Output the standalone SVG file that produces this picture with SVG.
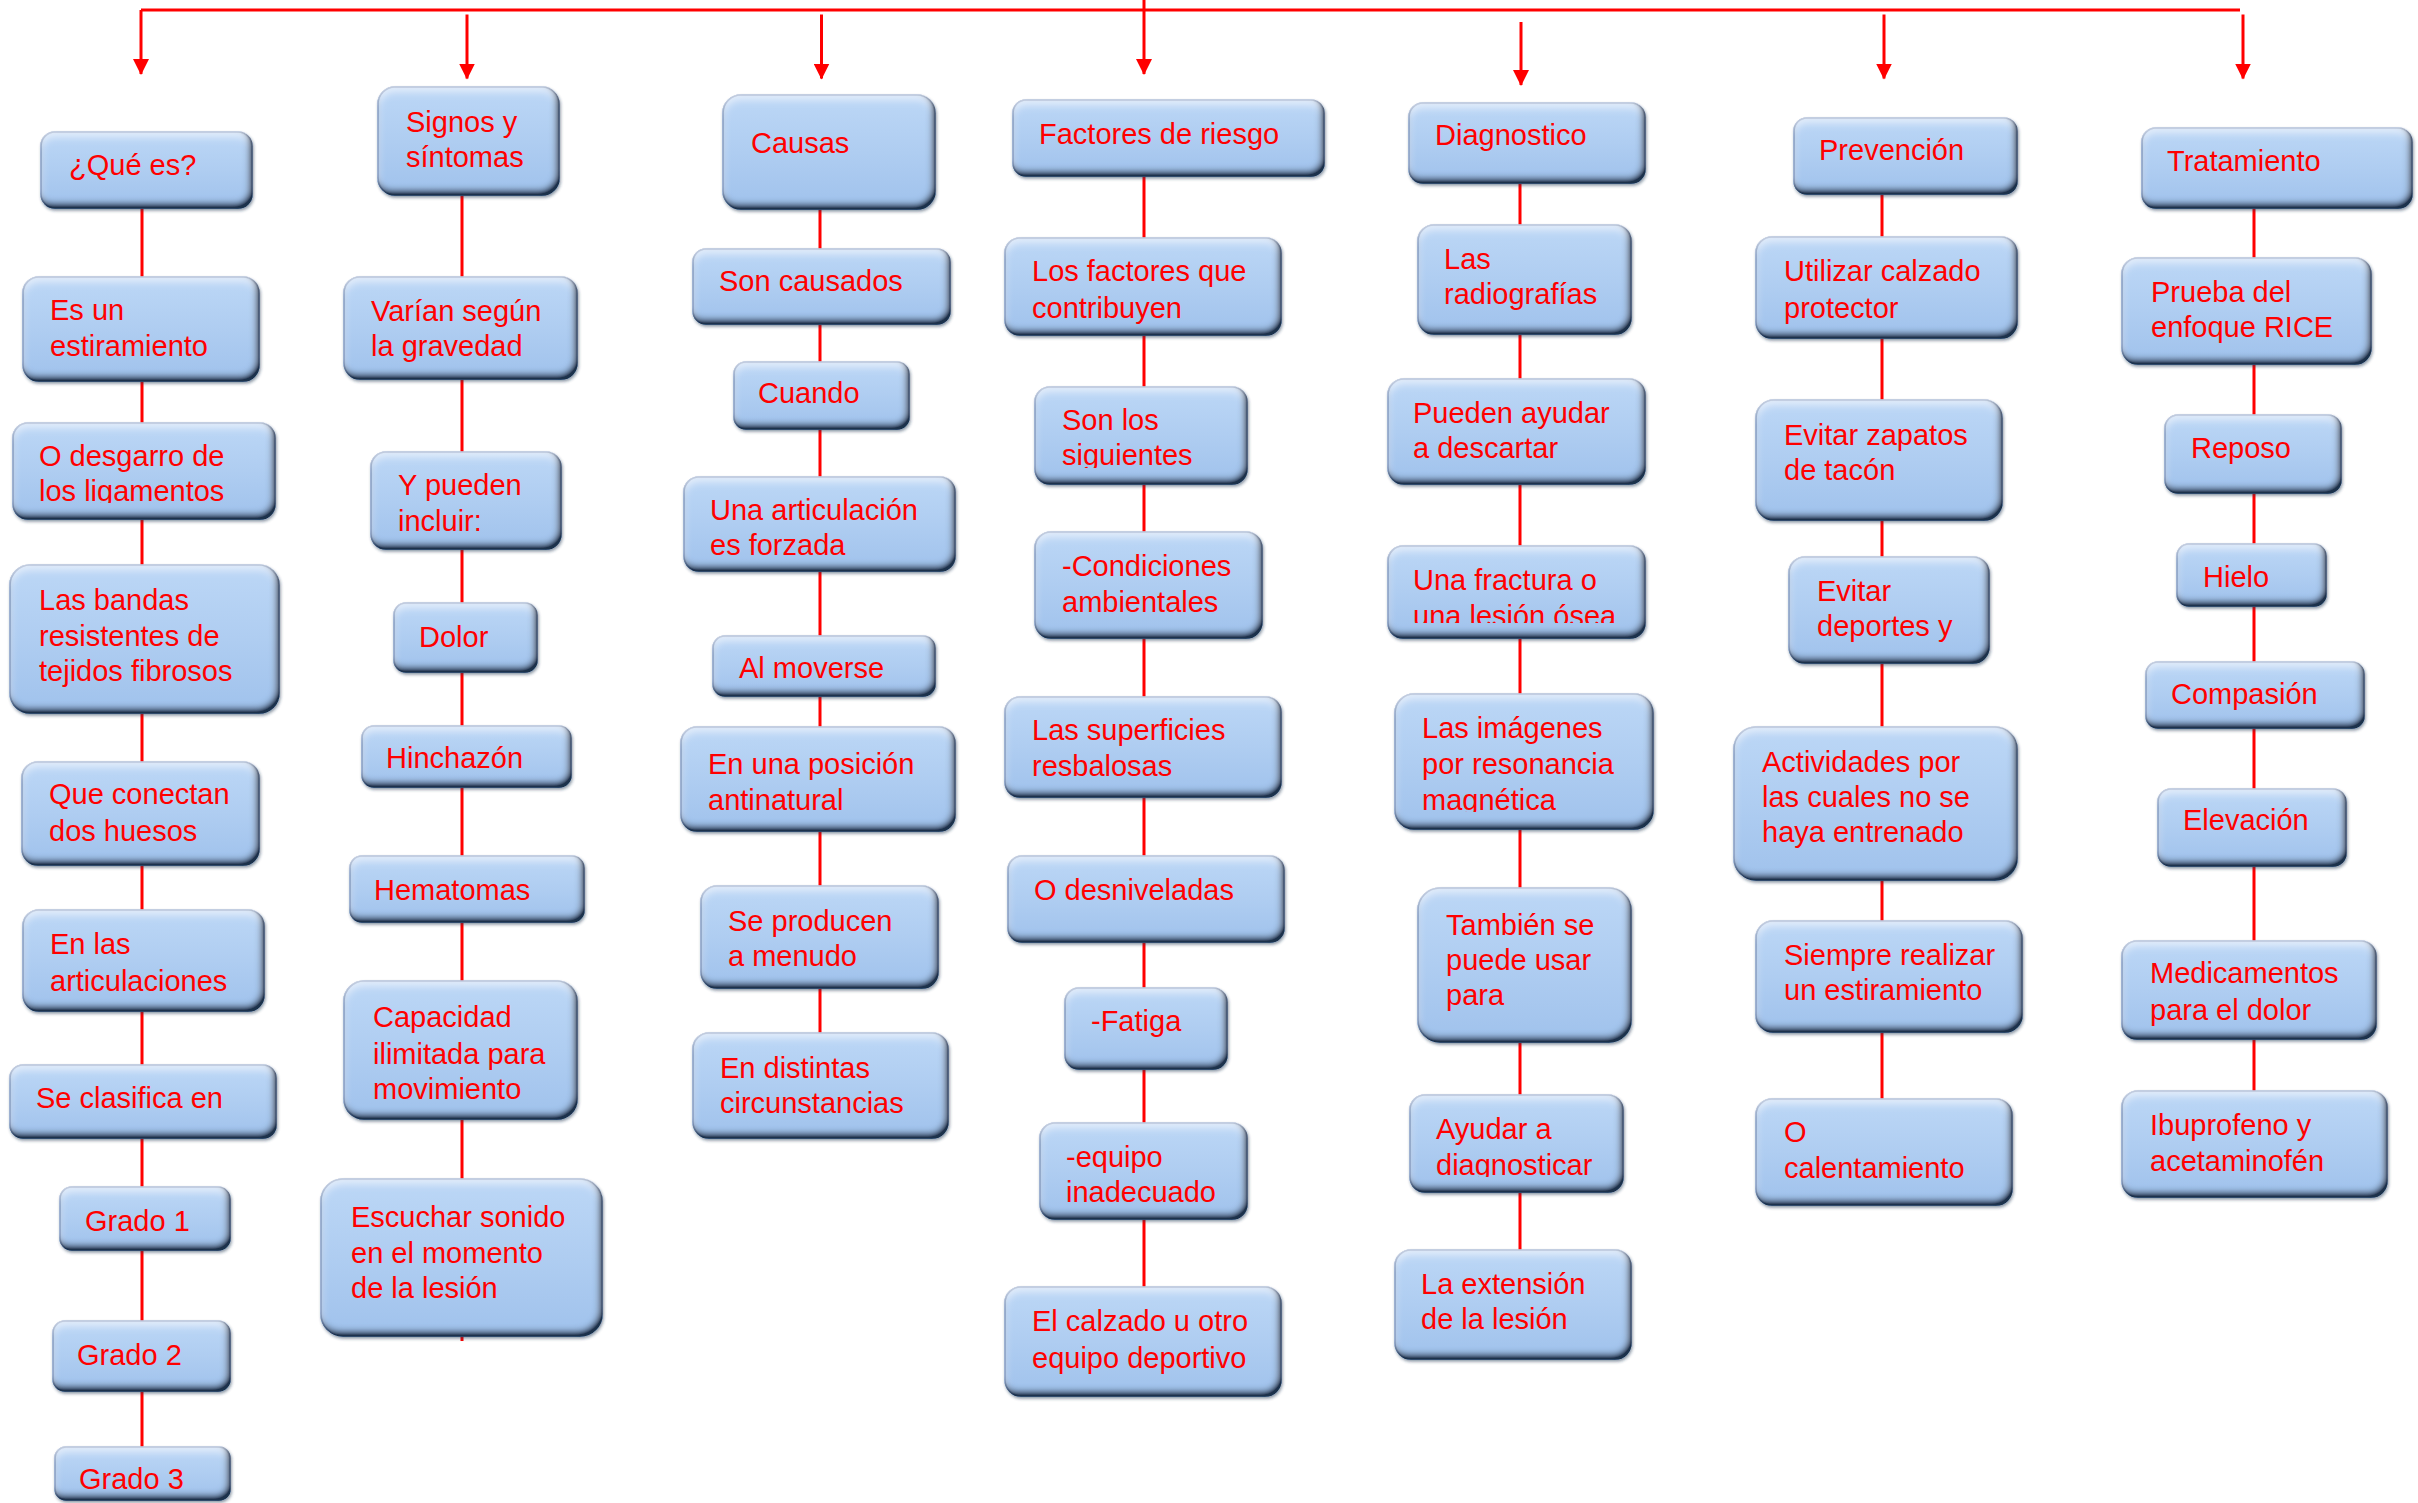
<svg xmlns="http://www.w3.org/2000/svg" width="2418" height="1503" viewBox="0 0 2418 1503">
<defs>
<style>
.n rect{fill:url(#gb);stroke:#5a86bd;stroke-width:1.6;filter:url(#bev);}
.n text{font-family:"Liberation Sans",Arial,sans-serif;font-size:29px;fill:#ff0000;}
.c{stroke:#ff0000;stroke-width:3;fill:none;}
.a{stroke:#ff0000;stroke-width:3;fill:none;marker-end:url(#ah);}
</style>
<linearGradient id="gb" x1="0" y1="0" x2="0" y2="1">
<stop offset="0" stop-color="#bcd7f6"/>
<stop offset="0.5" stop-color="#afcdf1"/>
<stop offset="1" stop-color="#a0c2ec"/>
</linearGradient>
<filter id="bev" x="-5%" y="-10%" width="112%" height="125%">
<feGaussianBlur in="SourceAlpha" stdDeviation="1.5" result="sb"/>
<feOffset in="sb" dx="1" dy="2" result="so"/>
<feFlood flood-color="#1f3550" flood-opacity="0.5"/>
<feComposite in2="so" operator="in" result="shadow"/>
<feGaussianBlur in="SourceAlpha" stdDeviation="3.5" result="ib"/>
<feOffset in="ib" dx="-3" dy="-5" result="ibo"/>
<feComposite in="SourceAlpha" in2="ibo" operator="arithmetic" k2="1.2" k3="-1.2" result="inner"/>
<feFlood flood-color="#1c304c" flood-opacity="1"/>
<feComposite in2="inner" operator="in" result="shade"/>
<feGaussianBlur in="SourceAlpha" stdDeviation="4" result="ib2"/>
<feOffset in="ib2" dx="0" dy="5" result="ibt"/>
<feComposite in="SourceAlpha" in2="ibt" operator="arithmetic" k2="1" k3="-1" result="innert"/>
<feFlood flood-color="#ffffff" flood-opacity="0.6"/>
<feComposite in2="innert" operator="in" result="hl"/>
<feMerge><feMergeNode in="shadow"/><feMergeNode in="SourceGraphic"/><feMergeNode in="hl"/><feMergeNode in="shade"/></feMerge>
</filter>
<marker id="ah" markerUnits="userSpaceOnUse" markerWidth="16" markerHeight="16" refX="15" refY="8" orient="auto">
<path d="M0,0 L16,8 L0,16 z" fill="#ff0000"/>
</marker>
<clipPath id="k1"><rect x="0" y="470" width="400" height="33"/></clipPath>
<clipPath id="k2"><rect x="1000" y="436" width="300" height="32"/></clipPath>
<clipPath id="k3"><rect x="1380" y="598" width="300" height="25"/></clipPath>
<clipPath id="k4"><rect x="1380" y="780" width="300" height="32"/></clipPath>
<clipPath id="k5"><rect x="1400" y="1145" width="300" height="32"/></clipPath>
</defs>
<rect width="2418" height="1503" fill="#ffffff"/>
<g id="connectors">
<path class="c" d="M141,10 H2240"/>
<path class="c" d="M1144,0 V10"/>
<path class="a" d="M141,10 V74"/>
<path class="a" d="M467,14.5 V78.5"/>
<path class="a" d="M821.5,14.5 V78.5"/>
<path class="a" d="M1144,10 V74"/>
<path class="a" d="M1521,22 V85"/>
<path class="a" d="M1884,14.5 V78.5"/>
<path class="a" d="M2243,14.5 V78.5"/>
<path class="c" d="M142,208 V1450"/>
<path class="c" d="M462,195 V1341"/>
<path class="c" d="M820,209 V1035"/>
<path class="c" d="M1144,176 V1289"/>
<path class="c" d="M1520,183 V1252"/>
<path class="c" d="M1882,194 V1101"/>
<path class="c" d="M2254,207 V1093"/>
</g>
<g id="nodes">
<g id="n-que" class="n"><rect x="41" y="132" width="211" height="76" rx="14"/><text x="69" y="174.5">¿Qué es?</text></g>
<g id="n-esun" class="n"><rect x="23" y="277" width="236" height="104" rx="16"/><text><tspan x="50" y="320">Es un</tspan><tspan x="50" y="356">estiramiento</tspan></text></g>
<g id="n-desgarro" class="n"><rect x="13" y="423" width="262" height="96" rx="15"/><text x="39" y="466">O desgarro de</text><text x="39" y="501" clip-path="url(#k1)">los ligamentos</text></g>
<g id="n-bandas" class="n"><rect x="10" y="565" width="269" height="148" rx="20"/><text><tspan x="39" y="610">Las bandas</tspan><tspan x="39" y="646">resistentes de</tspan><tspan x="39" y="681">tejidos fibrosos</tspan></text></g>
<g id="n-conectan" class="n"><rect x="22" y="762" width="237" height="103" rx="16"/><text><tspan x="49" y="804">Que conectan</tspan><tspan x="49" y="841">dos huesos</tspan></text></g>
<g id="n-enlas" class="n"><rect x="23" y="910" width="241" height="101" rx="16"/><text><tspan x="50" y="954">En las</tspan><tspan x="50" y="991">articulaciones</tspan></text></g>
<g id="n-clasifica" class="n"><rect x="10" y="1065" width="266" height="73" rx="13"/><text x="36" y="1108">Se clasifica en</text></g>
<g id="n-grado1" class="n"><rect x="60" y="1187" width="170" height="63" rx="12"/><text x="85" y="1231">Grado 1</text></g>
<g id="n-grado2" class="n"><rect x="53" y="1321" width="177" height="70" rx="12"/><text x="77" y="1365">Grado 2</text></g>
<g id="n-grado3" class="n"><rect x="55" y="1447" width="175" height="53" rx="11"/><text x="79" y="1489">Grado 3</text></g>

<g id="n-signos" class="n"><rect x="378" y="87" width="181" height="108" rx="17"/><text><tspan x="406" y="132">Signos y</tspan><tspan x="406" y="167">síntomas</tspan></text></g>
<g id="n-varian" class="n"><rect x="344" y="277" width="233" height="102" rx="16"/><text><tspan x="371" y="321">Varían según</tspan><tspan x="371" y="356">la gravedad</tspan></text></g>
<g id="n-ypueden" class="n"><rect x="371" y="452" width="190" height="97" rx="15"/><text><tspan x="398" y="495">Y pueden</tspan><tspan x="398" y="531">incluir:</tspan></text></g>
<g id="n-dolor" class="n"><rect x="394" y="603" width="143" height="69" rx="12"/><text x="419" y="647">Dolor</text></g>
<g id="n-hinchazon" class="n"><rect x="362" y="726" width="209" height="61" rx="12"/><text x="386" y="768">Hinchazón</text></g>
<g id="n-hematomas" class="n"><rect x="350" y="856" width="234" height="66" rx="12"/><text x="374" y="900">Hematomas</text></g>
<g id="n-capacidad" class="n"><rect x="344" y="981" width="233" height="138" rx="20"/><text><tspan x="373" y="1027">Capacidad</tspan><tspan x="373" y="1064">ilimitada para</tspan><tspan x="373" y="1099">movimiento</tspan></text></g>
<g id="n-escuchar" class="n"><rect x="321" y="1179" width="281" height="157" rx="22"/><text><tspan x="351" y="1227">Escuchar sonido</tspan><tspan x="351" y="1263">en el momento</tspan><tspan x="351" y="1298">de la lesión</tspan></text></g>

<g id="n-causas" class="n"><rect x="723" y="95" width="212" height="114" rx="18"/><text x="751" y="153">Causas</text></g>
<g id="n-soncausados" class="n"><rect x="693" y="249" width="257" height="75" rx="13"/><text x="719" y="291">Son causados</text></g>
<g id="n-cuando" class="n"><rect x="734" y="362" width="175" height="67" rx="12"/><text x="758" y="403">Cuando</text></g>
<g id="n-articulacion" class="n"><rect x="684" y="477" width="271" height="94" rx="15"/><text><tspan x="710" y="520">Una articulación</tspan><tspan x="710" y="555">es forzada</tspan></text></g>
<g id="n-almoverse" class="n"><rect x="713" y="636" width="222" height="60" rx="12"/><text x="739" y="678">Al moverse</text></g>
<g id="n-posicion" class="n"><rect x="681" y="727" width="274" height="104" rx="16"/><text><tspan x="708" y="774">En una posición</tspan><tspan x="708" y="810">antinatural</tspan></text></g>
<g id="n-seproducen" class="n"><rect x="701" y="886" width="237" height="102" rx="16"/><text><tspan x="728" y="931">Se producen</tspan><tspan x="728" y="966">a menudo</tspan></text></g>
<g id="n-distintas" class="n"><rect x="693" y="1033" width="255" height="105" rx="16"/><text><tspan x="720" y="1078">En distintas</tspan><tspan x="720" y="1113">circunstancias</tspan></text></g>

<g id="n-factores" class="n"><rect x="1013" y="100" width="311" height="76" rx="13"/><text x="1039" y="143.5">Factores de riesgo</text></g>
<g id="n-contribuyen" class="n"><rect x="1005" y="238" width="276" height="97" rx="15"/><text><tspan x="1032" y="281">Los factores que</tspan><tspan x="1032" y="317.5">contribuyen</tspan></text></g>
<g id="n-sonlos" class="n"><rect x="1035" y="387" width="212" height="97" rx="15"/><text x="1062" y="430">Son los</text><text x="1062" y="465" clip-path="url(#k2)">siguientes</text></g>
<g id="n-condiciones" class="n"><rect x="1035" y="532" width="227" height="106" rx="16"/><text><tspan x="1062" y="576">-Condiciones</tspan><tspan x="1062" y="612">ambientales</tspan></text></g>
<g id="n-superficies" class="n"><rect x="1005" y="697" width="276" height="100" rx="15"/><text><tspan x="1032" y="740">Las superficies</tspan><tspan x="1032" y="776">resbalosas</tspan></text></g>
<g id="n-desniveladas" class="n"><rect x="1008" y="856" width="276" height="86" rx="14"/><text x="1034" y="900">O desniveladas</text></g>
<g id="n-fatiga" class="n"><rect x="1065" y="988" width="162" height="81" rx="14"/><text x="1091" y="1031">-Fatiga</text></g>
<g id="n-equipo" class="n"><rect x="1040" y="1123" width="207" height="96" rx="15"/><text><tspan x="1066" y="1167">-equipo</tspan><tspan x="1066" y="1202">inadecuado</tspan></text></g>
<g id="n-calzado" class="n"><rect x="1005" y="1287" width="276" height="109" rx="16"/><text><tspan x="1032" y="1331">El calzado u otro</tspan><tspan x="1032" y="1368">equipo deportivo</tspan></text></g>

<g id="n-diagnostico" class="n"><rect x="1409" y="103" width="236" height="80" rx="14"/><text x="1435" y="145">Diagnostico</text></g>
<g id="n-radiografias" class="n"><rect x="1418" y="225" width="213" height="109" rx="16"/><text><tspan x="1444" y="269">Las</tspan><tspan x="1444" y="304">radiografías</tspan></text></g>
<g id="n-descartar" class="n"><rect x="1388" y="379" width="257" height="105" rx="16"/><text><tspan x="1413" y="423">Pueden ayudar</tspan><tspan x="1413" y="458">a descartar</tspan></text></g>
<g id="n-fractura" class="n"><rect x="1388" y="546" width="257" height="92" rx="15"/><text x="1413" y="590">Una fractura o</text><text x="1413" y="626" clip-path="url(#k3)">una lesión ósea</text></g>
<g id="n-imagenes" class="n"><rect x="1395" y="694" width="258" height="135" rx="19"/><text><tspan x="1422" y="738">Las imágenes</tspan><tspan x="1422" y="774">por resonancia</tspan></text><text x="1422" y="810" clip-path="url(#k4)">magnética</text></g>
<g id="n-tambien" class="n"><rect x="1418" y="888" width="213" height="154" rx="22"/><text><tspan x="1446" y="935">También se</tspan><tspan x="1446" y="970">puede usar</tspan><tspan x="1446" y="1005">para</tspan></text></g>
<g id="n-ayudar" class="n"><rect x="1410" y="1095" width="213" height="97" rx="15"/><text x="1436" y="1139">Ayudar a</text><text x="1436" y="1175" clip-path="url(#k5)">diagnosticar</text></g>
<g id="n-extension" class="n"><rect x="1395" y="1250" width="236" height="109" rx="16"/><text><tspan x="1421" y="1294">La extensión</tspan><tspan x="1421" y="1329">de la lesión</tspan></text></g>

<g id="n-prevencion" class="n"><rect x="1794" y="118" width="223" height="76" rx="13"/><text x="1819" y="160">Prevención</text></g>
<g id="n-utilizar" class="n"><rect x="1756" y="237" width="261" height="101" rx="16"/><text><tspan x="1784" y="281">Utilizar calzado</tspan><tspan x="1784" y="317.5">protector</tspan></text></g>
<g id="n-zapatos" class="n"><rect x="1756" y="400" width="246" height="120" rx="18"/><text><tspan x="1784" y="445">Evitar zapatos</tspan><tspan x="1784" y="480">de tacón</tspan></text></g>
<g id="n-deportes" class="n"><rect x="1789" y="557" width="200" height="106" rx="16"/><text><tspan x="1817" y="601">Evitar</tspan><tspan x="1817" y="636">deportes y</tspan></text></g>
<g id="n-actividades" class="n"><rect x="1734" y="727" width="283" height="153" rx="22"/><text><tspan x="1762" y="772">Actividades por</tspan><tspan x="1762" y="807">las cuales no se</tspan><tspan x="1762" y="842">haya entrenado</tspan></text></g>
<g id="n-siempre" class="n"><rect x="1756" y="921" width="266" height="111" rx="17"/><text><tspan x="1784" y="965">Siempre realizar</tspan><tspan x="1784" y="1000">un estiramiento</tspan></text></g>
<g id="n-calentamiento" class="n"><rect x="1756" y="1099" width="256" height="106" rx="16"/><text><tspan x="1784" y="1141.5">O</tspan><tspan x="1784" y="1178">calentamiento</tspan></text></g>

<g id="n-tratamiento" class="n"><rect x="2142" y="128" width="270" height="80" rx="14"/><text x="2167" y="170.5">Tratamiento</text></g>
<g id="n-rice" class="n"><rect x="2122" y="258" width="249" height="106" rx="16"/><text><tspan x="2151" y="301.5">Prueba del</tspan><tspan x="2151" y="337">enfoque RICE</tspan></text></g>
<g id="n-reposo" class="n"><rect x="2165" y="415" width="176" height="78" rx="13"/><text x="2191" y="458">Reposo</text></g>
<g id="n-hielo" class="n"><rect x="2177" y="544" width="149" height="62" rx="12"/><text x="2203" y="586.5">Hielo</text></g>
<g id="n-compasion" class="n"><rect x="2146" y="662" width="218" height="66" rx="12"/><text x="2171" y="704">Compasión</text></g>
<g id="n-elevacion" class="n"><rect x="2158" y="789" width="188" height="77" rx="13"/><text x="2183" y="830">Elevación</text></g>
<g id="n-medicamentos" class="n"><rect x="2122" y="941" width="254" height="98" rx="15"/><text><tspan x="2150" y="983">Medicamentos</tspan><tspan x="2150" y="1020">para el dolor</tspan></text></g>
<g id="n-ibuprofeno" class="n"><rect x="2122" y="1091" width="265" height="106" rx="16"/><text><tspan x="2150" y="1135">Ibuprofeno y</tspan><tspan x="2150" y="1171">acetaminofén</tspan></text></g>
</g>
</svg>
